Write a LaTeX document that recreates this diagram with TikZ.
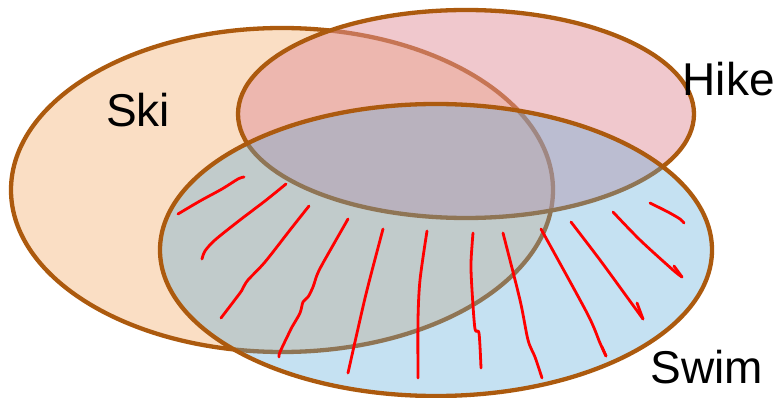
\documentclass[tikz,border=0pt]{standalone}
\usepackage{fontspec}
\setmainfont{Liberation Sans}
\definecolor{outl}{RGB}{172,90,14}
\definecolor{skif}{RGB}{250,222,196}
\definecolor{hikef}{RGB}{225,145,155}
\definecolor{swimf}{RGB}{89,169,218}
\definecolor{hatch}{RGB}{255,0,0}
\tikzset{
  setline/.style={draw=outl, line width=4.3pt},
  redline/.style={draw=hatch, line width=2.8pt, line cap=round, line join=round},
  lbl/.style={font=\fontsize{46}{50}\selectfont, inner sep=0pt, text=black}
}
\begin{document}
\begin{tikzpicture}[x=1pt,y=-1pt]
\useasboundingbox (0,0) rectangle (774,398);
% sets
\path[setline, fill=skif] (282,190) ellipse [x radius=271, y radius=162];
\path[setline, fill=hikef, fill opacity=0.5] (466,114) ellipse [x radius=228, y radius=104];
\path[setline, fill=swimf, fill opacity=0.35] (436,250) ellipse [x radius=276, y radius=146];
% hatching
\draw[redline] plot[smooth] coordinates {(178,214) (200,201) (222,189) (238,179) (244,177)};
\draw[redline] plot[smooth] coordinates {(202,259) (205,251) (215,240) (240,220) (265,201) (286,184)};
\draw[redline] plot[smooth] coordinates {(221,318) (240,293) (243,288) (248,280) (265,262) (290,230) (309,206)};
\draw[redline] plot[smooth] coordinates {(279,357) (280,352) (290,331) (292,327) (300,313) (303,302) (308,297) (313,287) (317,275) (323,263) (348,219)};
\draw[redline] plot[smooth] coordinates {(348,373) (357,333) (367,290) (383,229)};
\draw[redline] plot[smooth] coordinates {(418,378) (418,320) (420,280) (427,231)};
\draw[redline] plot[smooth] coordinates {(481,368) (479,333) (475,329) (472,290) (471,263) (473,233)};
\draw[redline] plot[smooth] coordinates {(542,378) (535,357) (528,340) (520,300) (503,233)};
\draw[redline] plot[smooth] coordinates {(606,356) (600,343) (587,313) (541,229)};
\draw[redline] (602,347) -- (606,356);
\draw[redline] plot[smooth] coordinates {(643,319) (627,297) (600,260) (571,222)};
\draw[redline] (637,303) -- (643,319);
\draw[redline] plot[smooth] coordinates {(682,277) (673,270) (640,240) (613,212)};
\draw[redline] (674,266) -- (682,277);
\draw[redline] plot[smooth] coordinates {(650,203) (668,212) (680,219) (684,223)};
% labels
\node[lbl] (ski) at (138,110) {Ski};
\node[lbl, anchor=east] (hike) at (775,79) {Hike};
\node[lbl] (swim) at (707,367) {Swim};
\end{tikzpicture}
\end{document}
